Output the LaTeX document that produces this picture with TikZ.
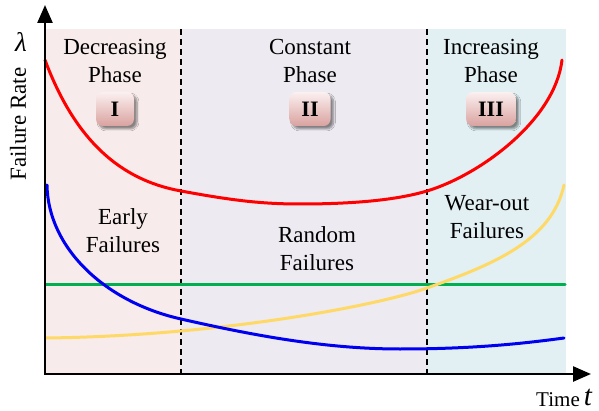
\documentclass[tikz,border=0pt]{standalone}
\usepackage{fontspec}
\setmainfont{Liberation Serif}
\usetikzlibrary{arrows.meta,shadows,shadows.blur}

\definecolor{bgI}{HTML}{F8EBEB}
\definecolor{bgII}{HTML}{EDEAF1}
\definecolor{bgIII}{HTML}{E2F0F4}
\definecolor{boxtop}{HTML}{FBF0F0}
\definecolor{boxbot}{HTML}{D9A29F}
\definecolor{cred}{HTML}{FF0000}
\definecolor{cblue}{HTML}{0000F0}
\definecolor{cgreen}{HTML}{00B050}
\definecolor{cyellow}{HTML}{FFD966}

\tikzset{
  curve/.style={line width=3pt, line cap=round},
  divider/.style={black, line width=1.3pt, dash pattern=on 6pt off 4pt},
  axisline/.style={black, line width=2.5pt,
    {Triangle[length=18pt,width=15pt]}-{Triangle[length=18pt,width=15pt]}},
  phasetext/.style={align=center, inner sep=0pt, font=\fontsize{23}{28}\selectfont},
  numbox/.style={rounded corners=7pt, minimum width=38pt, minimum height=34pt,
    inner xsep=12pt, top color=boxtop, bottom color=boxbot,
    blur shadow={shadow blur steps=8, shadow xshift=3pt, shadow yshift=-3pt, shadow opacity=45},
    font=\bfseries\fontsize{22}{22}\selectfont},
}

\begin{document}
\begin{tikzpicture}[x=1pt,y=-1pt]
\useasboundingbox (0,0) rectangle (599,411);

% phase backgrounds
\fill[bgI]   (45,29) rectangle (181,374);
\fill[bgII]  (181,29) rectangle (427,374);
\fill[bgIII] (427,29) rectangle (566,374);

% phase boundaries
\coordinate (d1t) at (181,29);
\coordinate (d1b) at (181,374);
\coordinate (d2t) at (427,29);
\coordinate (d2b) at (427,374);
\draw[divider] (d1t) -- (d1b);
\draw[divider] (d2t) -- (d2b);

% failure-rate curves
\draw[curve, cgreen] (46,285) -- (565,285);
\draw[curve, cyellow] (46,338) .. controls (220,336) and (380,305) .. (427,288)
                               .. controls (495,264) and (552,240) .. (564,185);
\draw[curve, cblue] (47,185) .. controls (48,248) and (105,302) .. (181,319)
                             .. controls (260,337) and (330,349) .. (400,349)
                             .. controls (470,349) and (520,344) .. (564,338);
\draw[curve, cred] (45,60) .. controls (75,140) and (120,180) .. (181,191)
                           .. controls (230,200) and (260,204) .. (300,204)
                           .. controls (360,204) and (400,199) .. (427,191)
                           .. controls (480,175) and (555,120) .. (562,60);

% axes
\coordinate (O) at (45,374);
\coordinate (ytip) at (45,5);
\coordinate (xtip) at (591,374);
\draw[axisline] (ytip) -- (O) -- (xtip);

\node[rotate=90, inner sep=0pt, font=\fontsize{23}{23}\selectfont] (ylab) at (18,124) {Failure Rate};
\node[inner sep=0pt, font=\itshape\fontsize{27}{27}\selectfont] (lam) at (21,42) {λ};
\node[inner sep=0pt, font=\fontsize{21}{21}\selectfont, anchor=base east] (xlab) at (580,406) {Time};
\node[inner sep=0pt, font=\itshape\fontsize{29}{29}\selectfont, anchor=base] (tlab) at (588,405) {t};

% phase titles
\node[phasetext] (ph1) at (115,61) {Decreasing\\Phase};
\node[phasetext] (ph2) at (310,61) {Constant\\Phase};
\node[phasetext] (ph3) at (491,61) {Increasing\\Phase};

% phase numerals
\node[numbox] (n1) at (115,109) {I};
\node[numbox] (n2) at (310,109) {II};
\node[numbox] (n3) at (491,109) {III};

% failure-type labels
\node[phasetext] (f1) at (123,231) {Early\\Failures};
\node[phasetext] (f2) at (317,249) {Random\\Failures};
\node[phasetext] (f3) at (487,217) {Wear-out\\Failures};
\end{tikzpicture}
\end{document}
